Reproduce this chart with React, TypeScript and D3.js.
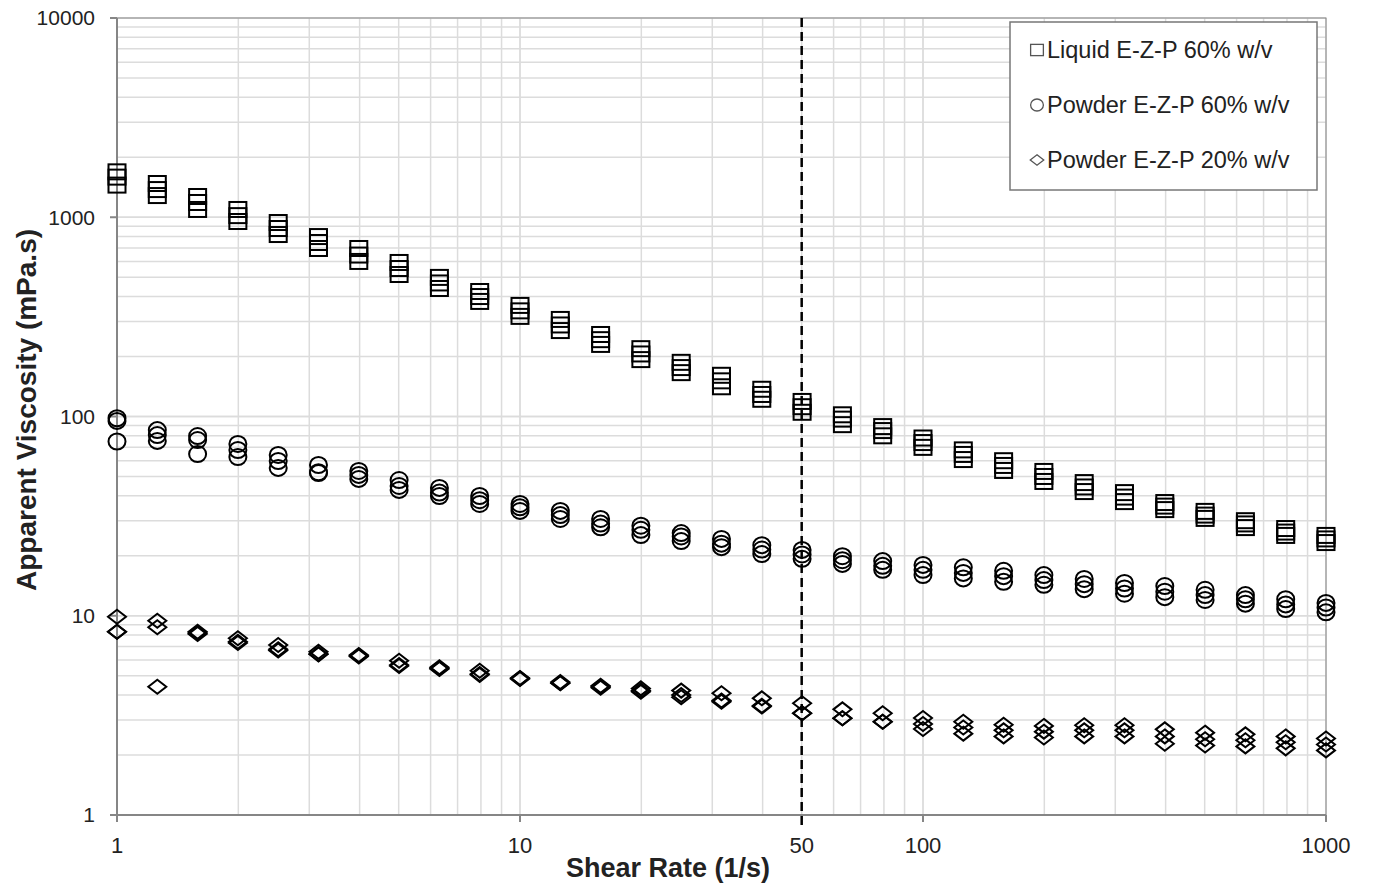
import * as React from "react";
import * as d3 from "d3";

// shear rates (1/s), 10 points per decade
const shearRates = [
  1, 1.259, 1.585, 1.995, 2.512, 3.162, 3.981, 5.012, 6.31, 7.943,
  10, 12.59, 15.85, 19.95, 25.12, 31.62, 39.81, 50.12, 63.1, 79.43,
  100, 125.9, 158.5, 199.5, 251.2, 316.2, 398.1, 501.2, 631, 794.3, 1000,
];

// Liquid E-Z-P 60% w/v, three replicates
const liquid60A = [1690, 1477, 1271, 1094, 941, 800, 697, 593, 499, 424, 361, 307, 258, 219, 187, 161, 137, 119, 102, 89, 78, 68, 60, 53, 46.6, 41.5, 37, 33.4, 30, 27.4, 25.3];
const liquid60B = [1590, 1377, 1186, 1019, 878, 747, 646, 553, 468, 400, 339, 288, 243, 206, 176, 151, 129, 112, 97, 85, 74, 64.5, 56.8, 50, 44.3, 39.4, 35.5, 32, 28.9, 26.3, 24.3];
const liquid60C = [1450, 1285, 1094, 952, 819, 697, 600, 516, 439, 378, 318, 270, 230, 193, 166, 141, 122, 105, 91, 80, 70, 60.8, 53.6, 47.2, 42, 37.4, 34.1, 30.8, 27.7, 25.3, 23.3];

// Powder E-Z-P 60% w/v
const powder60A = [98, 85.5, 79.8, 72.8, 64.1, 57.1, 53.3, 48, 43.8, 39.9, 36.4, 33.6, 30.6, 28.3, 26, 24.3, 22.6, 21.4, 19.9, 18.8, 18, 17.5, 16.8, 16, 15.3, 14.6, 14.1, 13.5, 12.7, 12.1, 11.6];
const powder60B = [95, 80.7, 76.2, 67.9, 59.8, 52.5, 50.9, 44.8, 41.5, 38, 35, 32, 29, 27, 25, 23, 21.5, 20.3, 19, 17.8, 17, 16.4, 15.8, 15.1, 14.4, 13.7, 13.2, 12.7, 12.1, 11.4, 11];
const powder60C = [74.9, 75.4, 64.8, 62.6, 55.2, 52, 48.6, 42.8, 39.9, 36.4, 33.6, 30.6, 27.8, 25.4, 23.7, 22.1, 20.4, 19.3, 18.2, 17, 16, 15.4, 14.8, 14.3, 13.6, 12.9, 12.4, 12, 11.5, 10.8, 10.4];

// Powder E-Z-P 20% w/v
const powder20A = [9.89, 9.44, 8.3, 7.71, 7.13, 6.6, 6.35, 5.95, 5.52, 5.3, 4.87, 4.65, 4.45, 4.32, 4.21, 4.08, 3.85, 3.64, 3.39, 3.24, 3.07, 2.94, 2.84, 2.8, 2.82, 2.82, 2.69, 2.59, 2.54, 2.48, 2.42];
const powder20B = [8.32, 8.75, 8.2, 7.41, 6.79, 6.43, 6.3, 5.66, 5.45, 5.1, 4.85, 4.6, 4.4, 4.21, 4.0, 3.75, 3.53, 3.24, 3.06, 2.94, 2.86, 2.75, 2.66, 2.62, 2.66, 2.66, 2.48, 2.4, 2.37, 2.32, 2.26];
const powder20C = [8.32, 4.4, 8.1, 7.3, 6.7, 6.4, 6.25, 5.6, 5.4, 5.05, 4.82, 4.58, 4.35, 4.15, 3.9, 3.7, 3.5, 3.24, 3.06, 2.94, 2.7, 2.56, 2.48, 2.45, 2.48, 2.48, 2.28, 2.23, 2.21, 2.16, 2.11];

const seriesNames = ["Liquid E-Z-P 60% w/v", "Powder E-Z-P 60% w/v", "Powder E-Z-P 20% w/v"];
const xTickValues = [1, 10, 50, 100, 1000];
const yTickValues = [1, 10, 100, 1000, 10000];
const markerLine = 50;

type Shape = "square" | "circle" | "diamond";

const series: { name: string; shape: Shape; reps: number[][] }[] = [
  { name: seriesNames[0], shape: "square", reps: [liquid60A, liquid60B, liquid60C] },
  { name: seriesNames[1], shape: "circle", reps: [powder60A, powder60B, powder60C] },
  { name: seriesNames[2], shape: "diamond", reps: [powder20A, powder20B, powder20C] },
];

const W = 1375;
const H = 890;
const left = 117;
const right = 1326;
const top = 18;
const bottom = 815;

const font = "Arial, 'Liberation Sans', Helvetica, sans-serif";

const Marker: React.FC<{ shape: Shape; x: number; y: number; s?: number; stroke: string; sw: number }> = ({ shape, x, y, s = 1, stroke, sw }) => {
  if (shape === "square") {
    const w = 17 * s, h = 15 * s;
    return <rect x={x - w / 2} y={y - h / 2} width={w} height={h} fill="none" stroke={stroke} strokeWidth={sw} />;
  }
  if (shape === "circle") {
    return <ellipse cx={x} cy={y} rx={8.5 * s} ry={8 * s} fill="none" stroke={stroke} strokeWidth={sw} />;
  }
  const hw = 9 * s, hh = 7 * s;
  return (
    <path
      d={`M${x},${y - hh}L${x + hw},${y}L${x},${y + hh}L${x - hw},${y}Z`}
      fill="none"
      stroke={stroke}
      strokeWidth={sw}
      strokeLinejoin="miter"
    />
  );
};

export default function App() {
  const xScale = d3.scaleLog().domain([1, 1000]).range([left, right]);
  const yScale = d3.scaleLog().domain([1, 10000]).range([bottom, top]);

  // minor grid values
  const xGrid: number[] = [];
  for (const dec of [1, 10, 100]) for (let k = 1; k <= 10; k++) xGrid.push(dec * k);
  const yGrid: number[] = [];
  for (const dec of [1, 10, 100, 1000]) for (let k = 1; k <= 10; k++) yGrid.push(dec * k);

  const gridColor = "#dcdcdc";
  const axisColor = "#868686";

  return (
    <svg width={W} height={H} style={{ position: "absolute", left: 0, top: 0, background: "#fff" }}>
      <rect x={0} y={0} width={W} height={H} fill="#fff" />
      {/* grid */}
      <g>
        {xGrid.map((v, i) => (
          <line key={"gx" + i} x1={xScale(v)} x2={xScale(v)} y1={top} y2={bottom} stroke={gridColor} strokeWidth={1.5} />
        ))}
        {yGrid.map((v, i) => (
          <line key={"gy" + i} x1={left} x2={right} y1={yScale(v)} y2={yScale(v)} stroke={gridColor} strokeWidth={1.5} />
        ))}
        <rect x={left} y={top} width={right - left} height={bottom - top} fill="none" stroke={axisColor} strokeWidth={1} />
      </g>

      {/* axes */}
      <line x1={left} x2={left} y1={top} y2={bottom} stroke={axisColor} strokeWidth={2} />
      <line x1={left} x2={right} y1={bottom} y2={bottom} stroke={axisColor} strokeWidth={2} />
      {yTickValues.map((v) => (
        <g key={"yt" + v}>
          <line x1={left - 7} x2={left} y1={yScale(v)} y2={yScale(v)} stroke={axisColor} strokeWidth={2} />
          <text x={left - 22} y={yScale(v)} dy="0.35em" textAnchor="end" fontFamily={font} fontSize={21} fill="#222">
            {v}
          </text>
        </g>
      ))}
      {xTickValues.map((v) => (
        <g key={"xt" + v}>
          {v !== markerLine && (
            <line x1={xScale(v)} x2={xScale(v)} y1={bottom} y2={bottom + 7} stroke={axisColor} strokeWidth={2} />
          )}
          <text x={xScale(v)} y={bottom + 38} textAnchor="middle" fontFamily={font} fontSize={22} fill="#222">
            {v}
          </text>
        </g>
      ))}

      {/* dashed line at 50 1/s */}
      <line
        x1={xScale(markerLine)}
        x2={xScale(markerLine)}
        y1={top}
        y2={bottom + 12}
        stroke="#000"
        strokeWidth={2.5}
        strokeDasharray="9,5"
      />

      {/* data */}
      {series.map((s) =>
        s.reps.map((rep, ri) =>
          rep.map((v, i) => (
            <Marker key={s.name + ri + "-" + i} shape={s.shape} x={xScale(shearRates[i])} y={yScale(v)} stroke="#000" sw={2} />
          ))
        )
      )}

      {/* axis titles */}
      <text x={668} y={877} textAnchor="middle" fontFamily={font} fontWeight="bold" fontSize={27} fill="#222">
        Shear Rate (1/s)
      </text>
      <text
        transform={`translate(36,410) rotate(-90)`}
        textAnchor="middle"
        fontFamily={font}
        fontWeight="bold"
        fontSize={28}
        fill="#222"
      >
        Apparent Viscosity (mPa.s)
      </text>

      {/* legend */}
      <g>
        <rect x={1010} y={22} width={307} height={168} fill="#fff" stroke="#777" strokeWidth={1.5} />
        {series.map((s, i) => {
          const ly = 50 + i * 55;
          return (
            <g key={"lg" + i}>
              <Marker shape={s.shape} x={1037} y={ly} s={0.75} stroke="#555" sw={1.3} />
              <text x={1047} y={ly} dy="0.35em" fontFamily={font} fontSize={23.5} fill="#222">
                {s.name}
              </text>
            </g>
          );
        })}
      </g>
    </svg>
  );
}
